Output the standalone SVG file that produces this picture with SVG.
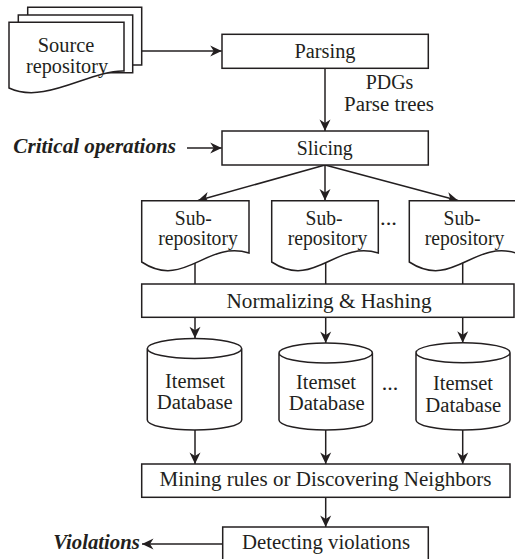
<svg xmlns="http://www.w3.org/2000/svg" width="515" height="559" viewBox="0 0 515 559">
<style>
.n{fill:#fff;stroke:#231f20;stroke-width:1.5}
.c{fill:none;stroke:#231f20;stroke-width:1.5}
text{font-family:'Liberation Serif','DejaVu Serif','Times New Roman',serif;font-size:20px;fill:#231f20}
.t{text-anchor:middle}
.bi{font-weight:bold;font-style:italic}
</style>
<defs>
<marker id="ah" viewBox="-12 -6 12 12" refX="0" refY="0" markerWidth="12" markerHeight="12" markerUnits="userSpaceOnUse" orient="auto">
<path d="M0,0 L-11.5,-5.5 L-8,0 L-11.5,5.5 Z" fill="#231f20"/>
</marker>
</defs>
<rect width="515" height="559" fill="#fff"/>
<g id="connectors">
<line class="c" x1="141.7" y1="51" x2="221.7" y2="51" marker-end="url(#ah)"/>
<line class="c" x1="325" y1="68.3" x2="325" y2="131" marker-end="url(#ah)"/>
<line class="c" x1="187" y1="148" x2="221.7" y2="148" marker-end="url(#ah)"/>
<line class="c" x1="325" y1="165" x2="198" y2="200.5" marker-end="url(#ah)"/>
<line class="c" x1="325" y1="165" x2="325" y2="200.5" marker-end="url(#ah)"/>
<line class="c" x1="325" y1="165" x2="458" y2="200.5" marker-end="url(#ah)"/>
<line class="c" x1="195" y1="255" x2="195" y2="284"/>
<line class="c" x1="325.7" y1="255" x2="325.7" y2="284"/>
<line class="c" x1="462.7" y1="255" x2="462.7" y2="284"/>
<line class="c" x1="195" y1="317.3" x2="195" y2="338.3" marker-end="url(#ah)"/>
<line class="c" x1="325.7" y1="317.3" x2="325.7" y2="343" marker-end="url(#ah)"/>
<line class="c" x1="462.7" y1="317.3" x2="462.7" y2="342.7" marker-end="url(#ah)"/>
<line class="c" x1="195" y1="430" x2="195" y2="464" marker-end="url(#ah)"/>
<line class="c" x1="325.7" y1="430" x2="325.7" y2="464" marker-end="url(#ah)"/>
<line class="c" x1="462.7" y1="430" x2="462.7" y2="464" marker-end="url(#ah)"/>
<line class="c" x1="325.7" y1="497.3" x2="325.7" y2="527" marker-end="url(#ah)"/>
<line class="c" x1="222.7" y1="544" x2="142" y2="544" marker-end="url(#ah)"/>
</g>
<g id="source">
<path class="n" d="M27.7,7.3 H141.7 V65 H27.7 Z"/>
<path class="n" d="M18.3,15 H132.7 V72.7 H18.3 Z"/>
<path class="n" d="M9,22.3 H124 V71 C90,70 45,105 9,88 Z"/>
<text class="t" x="66" y="52" textLength="56.6" lengthAdjust="spacingAndGlyphs">Source</text>
<text class="t" x="67" y="73" textLength="82" lengthAdjust="spacingAndGlyphs">repository</text>
</g>
<g id="parsing">
<rect class="n" x="222" y="34.3" width="206.3" height="34"/>
<text class="t" x="325" y="58" textLength="61" lengthAdjust="spacingAndGlyphs">Parsing</text>
</g>
<g id="label-pdgs">
<text class="t" x="389.5" y="89.3" textLength="47.6" lengthAdjust="spacingAndGlyphs">PDGs</text>
<text class="t" x="389" y="110.7" textLength="90" lengthAdjust="spacingAndGlyphs">Parse trees</text>
</g>
<g id="critical">
<text class="bi" x="13.3" y="153" textLength="162.7" lengthAdjust="spacingAndGlyphs">Critical operations</text>
</g>
<g id="slicing">
<rect class="n" x="222" y="131" width="206.3" height="34"/>
<text class="t" x="324.7" y="155" textLength="56" lengthAdjust="spacingAndGlyphs">Slicing</text>
</g>
<g id="sub1">
<path class="n" d="M141.7,200.7 H249 V253 C206,240 184,290 141.7,262 Z"/>
<text class="t" x="193.3" y="225" textLength="37" lengthAdjust="spacingAndGlyphs">Sub-</text>
<text class="t" x="198" y="245" textLength="79.5" lengthAdjust="spacingAndGlyphs">repository</text>
</g>
<g id="sub2">
<path class="n" d="M271.7,200.7 H378.3 V253 C335.6,240 314.4,290 271.7,262 Z"/>
<text class="t" x="324" y="225" textLength="37" lengthAdjust="spacingAndGlyphs">Sub-</text>
<text class="t" x="327.5" y="245" textLength="79.5" lengthAdjust="spacingAndGlyphs">repository</text>
</g>
<text class="t" x="388.5" y="225" textLength="17" lengthAdjust="spacingAndGlyphs">...</text>
<g id="sub3">
<path class="n" d="M409.3,200.7 H516 V253 C473.3,240 452,290 409.3,262 Z"/>
<text class="t" x="462" y="225" textLength="37" lengthAdjust="spacingAndGlyphs">Sub-</text>
<text class="t" x="464.5" y="245" textLength="79.5" lengthAdjust="spacingAndGlyphs">repository</text>
</g>
<g id="normalizing">
<rect class="n" x="141.7" y="284" width="372.3" height="33.3"/>
<text class="t" x="329" y="308.3" textLength="205" lengthAdjust="spacingAndGlyphs">Normalizing  &amp;  Hashing</text>
</g>
<g id="db1">
<path class="n" d="M147.3,348.5 V420 A47.2,10 0 0 0 241.7,420 V348.5 A47.2,10 0 0 0 147.3,348.5 A47.2,10 0 0 0 241.7,348.5"/>
<text class="t" x="195" y="387.5" textLength="60" lengthAdjust="spacingAndGlyphs">Itemset</text>
<text class="t" x="194.7" y="408.5" textLength="76" lengthAdjust="spacingAndGlyphs">Database</text>
</g>
<g id="db2">
<path class="n" d="M279,353 V420 A46.7,10 0 0 0 372.4,420 V353 A46.7,10 0 0 0 279,353 A46.7,10 0 0 0 372.4,353"/>
<text class="t" x="326" y="389" textLength="60" lengthAdjust="spacingAndGlyphs">Itemset</text>
<text class="t" x="326.7" y="410" textLength="76" lengthAdjust="spacingAndGlyphs">Database</text>
</g>
<text class="t" x="390" y="390" textLength="16.5" lengthAdjust="spacingAndGlyphs">...</text>
<g id="db3">
<path class="n" d="M416,352.7 V420 A47,10 0 0 0 510,420 V352.7 A47,10 0 0 0 416,352.7 A47,10 0 0 0 510,352.7"/>
<text class="t" x="463" y="390" textLength="60" lengthAdjust="spacingAndGlyphs">Itemset</text>
<text class="t" x="463.3" y="411.5" textLength="76" lengthAdjust="spacingAndGlyphs">Database</text>
</g>
<g id="mining">
<rect class="n" x="141.7" y="464" width="368.3" height="33.3"/>
<text class="t" x="325.5" y="486" textLength="332" lengthAdjust="spacingAndGlyphs">Mining rules or Discovering Neighbors</text>
</g>
<g id="detecting">
<rect class="n" x="222.7" y="527" width="205.6" height="40"/>
<text class="t" x="326" y="548.5" textLength="168" lengthAdjust="spacingAndGlyphs">Detecting violations</text>
</g>
<g id="violations">
<text class="bi" x="53.3" y="549" textLength="86.5" lengthAdjust="spacingAndGlyphs">Violations</text>
</g>
</svg>
